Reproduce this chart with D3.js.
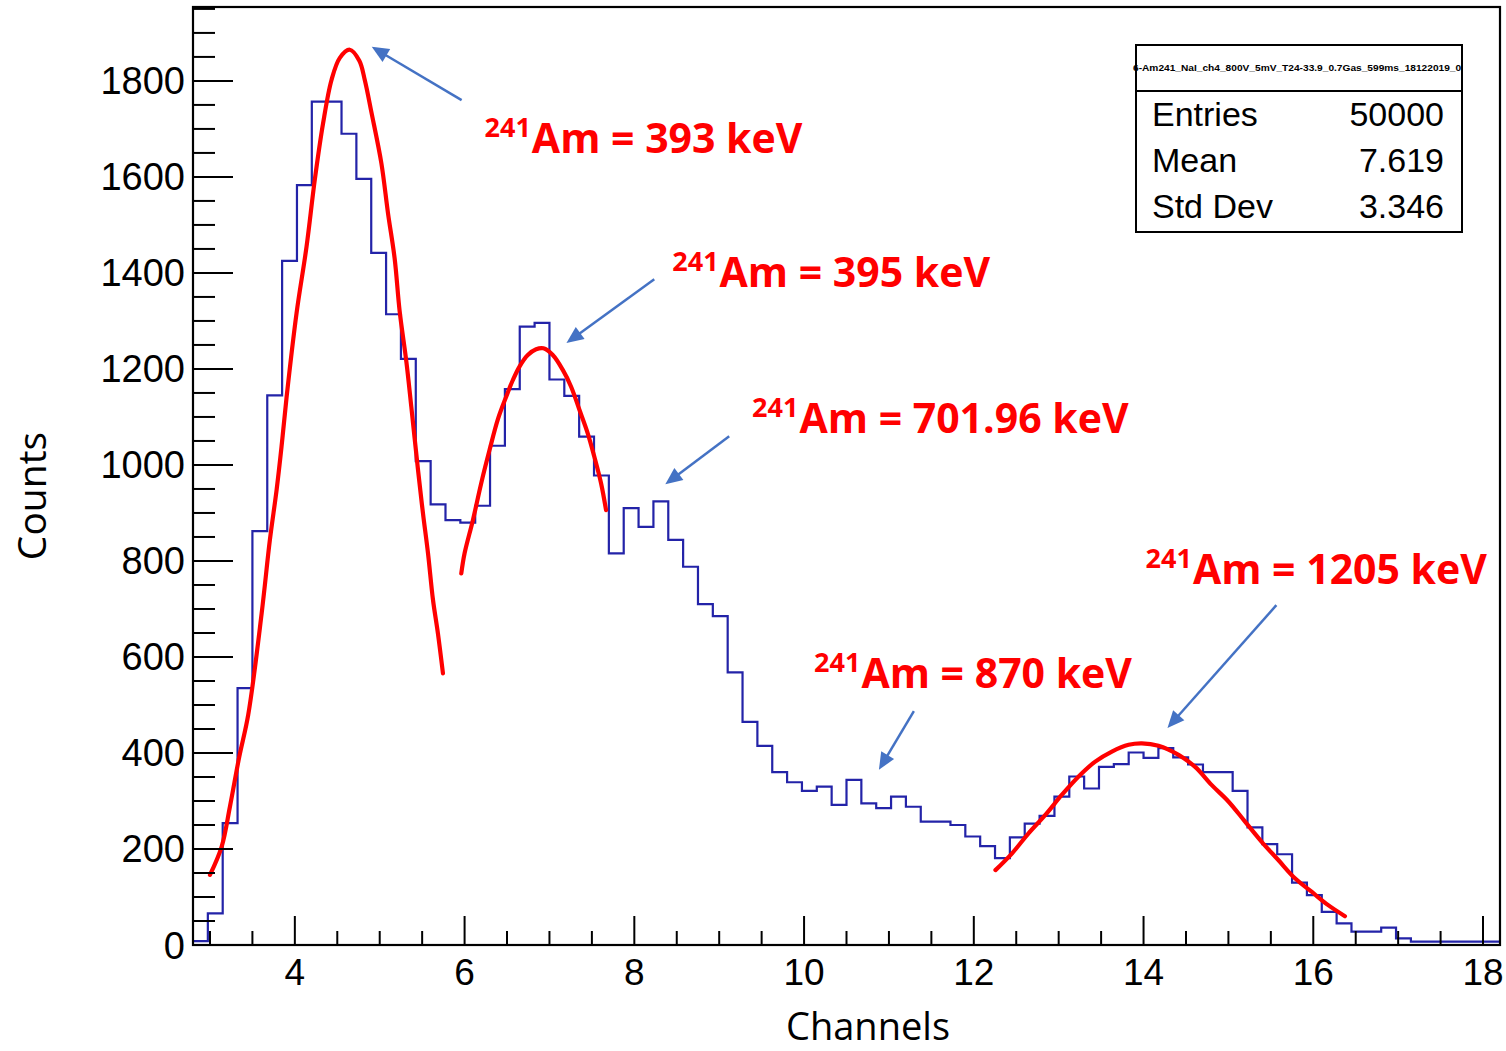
<!DOCTYPE html>
<html>
<head>
<meta charset="utf-8">
<script src="https://cdn.jsdelivr.net/npm/d3@7"></script>
<style>
  html, body { margin: 0; padding: 0; background: #fff; }
  svg { display: block; }
</style>
</head>
<body>
<svg id="chart" width="1506" height="1051"></svg>
<script>
// ---------------- DATA ----------------
const binLow = 2.8;
const binWidth = 0.175;
const counts = [
  8, 66, 254, 535, 862, 1145, 1425, 1583, 1757, 1757,
  1690, 1596, 1442, 1314, 1221, 1008, 918, 885, 880, 915,
  1040, 1158, 1288, 1296, 1178, 1144, 1059, 978, 816, 910,
  871, 924, 844, 788, 710, 685, 568, 465, 415, 360,
  339, 321, 330, 292, 344, 295, 285, 309, 288, 257,
  257, 250, 226, 206, 181, 224, 253, 269, 309, 351,
  326, 371, 377, 401, 390, 410, 391, 376, 360, 360,
  321, 245, 210, 189, 130, 104, 69, 45, 28, 28,
  36, 14, 7, 7, 7, 7, 7, 7
];

const fit1 = [
  [3.0,146],[3.138,205],[3.235,288],[3.345,392],[3.451,480],[3.609,691],[3.706,844],
  [3.785,948],[3.843,1038],[3.902,1140],[4.02,1316],[4.138,1455],[4.235,1594],[4.333,1712],
  [4.432,1802],[4.53,1848],[4.647,1865],[4.76,1842],[4.824,1802],[4.902,1735],[5.02,1628],
  [5.098,1524],[5.176,1430],[5.235,1320],[5.314,1215],[5.373,1120],[5.451,990],[5.51,899],
  [5.569,816],[5.627,720],[5.686,649],[5.745,566]
];
const fit2 = [
  [5.961,774],[6.0,816],[6.098,885],[6.196,962],[6.294,1031],[6.392,1095],[6.49,1142],
  [6.569,1177],[6.647,1205],[6.745,1229],[6.843,1241],[6.929,1243],[7.039,1229],[7.157,1198],
  [7.255,1163],[7.353,1115],[7.451,1066],[7.529,1017],[7.608,962],[7.667,906]
];
const fit3 = [
  [12.255,156],[12.451,191],[12.647,233],[12.843,271],[13.039,313],[13.235,351],[13.431,382],
  [13.627,403],[13.824,417],[13.98,420],[14.176,415],[14.412,396],[14.608,371],[14.804,333],
  [15.0,299],[15.196,257],[15.392,215],[15.588,177],[15.784,139],[15.98,111],[16.176,83],
  [16.373,60]
];

const xDomain = [2.8, 18.2];
const yDomain = [0, 1954];
const xTicks = [4, 6, 8, 10, 12, 14, 16, 18];
const yTicks = [0, 200, 400, 600, 800, 1000, 1200, 1400, 1600, 1800];

const statsTitle = "6-Am241_NaI_ch4_800V_5mV_T24-33.9_0.7Gas_599ms_18122019_0ch";
const statsNames = ["Entries", "Mean", "Std Dev"];
const statsValues = ["50000", "7.619", "3.346"];

// annotation labels: energy, label anchor (channel, counts), arrow from -> to (channel, counts)
const labelEnergies = ["393 keV", "395 keV", "701.96 keV", "870 keV", "1205 keV"];
const labelAnchors = [[6.235, 1650], [8.447, 1371], [9.388, 1067], [10.118, 535], [14.024, 752]];
const arrowFrom = [[5.965, 1760], [8.235, 1387], [9.118, 1060], [11.294, 487], [15.565, 708]];
const arrowTo   = [[4.906, 1871], [7.20, 1254], [8.365, 960], [10.882, 365], [14.282, 452]];

// ---------------- CHART ----------------
const svg = d3.select("#chart");
const L = 193, R = 1500, T = 7, B = 945;

const x = d3.scaleLinear().domain(xDomain).range([L, R]);
const y = d3.scaleLinear().domain(yDomain).range([B, T]);

// histogram step line
const histPts = counts.map((c, i) => [binLow + i * binWidth, c]);
histPts.push([binLow + counts.length * binWidth, counts[counts.length - 1]]);
svg.append("path")
  .datum(histPts)
  .attr("fill", "none")
  .attr("stroke", "#2323a8")
  .attr("stroke-width", 2.2)
  .attr("d", d3.line().x(d => x(d[0])).y(d => y(d[1])).curve(d3.curveStepAfter));

// fits
const fitLine = d3.line().x(d => x(d[0])).y(d => y(d[1])).curve(d3.curveCatmullRom.alpha(0.5));
[fit1, fit2, fit3].forEach(f => {
  svg.append("path")
    .datum(f)
    .attr("fill", "none")
    .attr("stroke", "#ff0000")
    .attr("stroke-width", 4.2)
    .attr("stroke-linecap", "round")
    .attr("d", fitLine);
});

// frame
svg.append("rect")
  .attr("x", L).attr("y", T).attr("width", R - L).attr("height", B - T)
  .attr("fill", "none").attr("stroke", "#000").attr("stroke-width", 2.2);

// x axis ticks (inside, pointing up)
const xMinor = d3.range(3.0, 18.01, 0.5).filter(v => !xTicks.some(t => Math.abs(t - v) < 1e-6));
const gx = svg.append("g");
gx.selectAll("line.maj").data(xTicks).join("line")
  .attr("x1", d => x(d)).attr("x2", d => x(d)).attr("y1", B).attr("y2", B - 29)
  .attr("stroke", "#000").attr("stroke-width", 2);
gx.selectAll("line.min").data(xMinor).join("line")
  .attr("x1", d => x(d)).attr("x2", d => x(d)).attr("y1", B).attr("y2", B - 14)
  .attr("stroke", "#000").attr("stroke-width", 2);
gx.selectAll("text").data(xTicks).join("text")
  .attr("x", d => x(d)).attr("y", 985)
  .attr("text-anchor", "middle")
  .attr("font-family", "'Liberation Sans', Arial, sans-serif")
  .attr("font-size", 37)
  .attr("fill", "#000")
  .text(d => d);

// y axis ticks (inside, pointing right)
const yMinor = d3.range(50, 1951, 50).filter(v => v % 200 !== 0);
const gy = svg.append("g");
gy.selectAll("line.maj").data(yTicks).join("line")
  .attr("x1", L).attr("x2", L + 40).attr("y1", d => y(d)).attr("y2", d => y(d))
  .attr("stroke", "#000").attr("stroke-width", 2);
gy.selectAll("line.min").data(yMinor).join("line")
  .attr("x1", L).attr("x2", L + 22).attr("y1", d => y(d)).attr("y2", d => y(d))
  .attr("stroke", "#000").attr("stroke-width", 2);
gy.selectAll("text").data(yTicks).join("text")
  .attr("x", 185).attr("y", d => y(d) + 13.5)
  .attr("text-anchor", "end")
  .attr("font-family", "'Liberation Sans', Arial, sans-serif")
  .attr("font-size", 38)
  .attr("fill", "#000")
  .text(d => d);

// axis titles
svg.append("text")
  .attr("x", 868).attr("y", 1040)
  .attr("text-anchor", "middle")
  .attr("font-family", "'Open Sans', sans-serif")
  .attr("font-size", 38)
  .attr("fill", "#000")
  .text("Channels");
svg.append("text")
  .attr("transform", "translate(46,496) rotate(-90)")
  .attr("text-anchor", "middle")
  .attr("font-family", "'Open Sans', sans-serif")
  .attr("font-size", 39)
  .attr("fill", "#000")
  .text("Counts");

// stats box
const sb = { x: 1136, y: 45, w: 326, h: 187, sep: 91 };
const defs = svg.append("defs");
defs.append("clipPath").attr("id", "titleClip")
  .append("rect").attr("x", sb.x - 4).attr("y", sb.y).attr("width", sb.w + 4).attr("height", sb.sep - sb.y);
svg.append("rect")
  .attr("x", sb.x).attr("y", sb.y).attr("width", sb.w).attr("height", sb.h)
  .attr("fill", "#fff").attr("stroke", "#000").attr("stroke-width", 2);
svg.append("line")
  .attr("x1", sb.x).attr("x2", sb.x + sb.w).attr("y1", sb.sep).attr("y2", sb.sep)
  .attr("stroke", "#000").attr("stroke-width", 2);
svg.append("text")
  .attr("clip-path", "url(#titleClip)")
  .attr("x", sb.x - 3).attr("y", 71)
  .attr("font-family", "'Liberation Sans', Arial, sans-serif")
  .attr("font-size", 9.5)
  .attr("font-weight", "bold")
  .attr("textLength", 340)
  .attr("lengthAdjust", "spacingAndGlyphs")
  .attr("fill", "#000")
  .text(statsTitle);
const rowY = [126, 172, 218];
svg.selectAll("text.sname").data(statsNames).join("text")
  .attr("class", "sname")
  .attr("x", 1152).attr("y", (d, i) => rowY[i])
  .attr("font-family", "'Liberation Sans', Arial, sans-serif")
  .attr("font-size", 34).attr("fill", "#000")
  .text(d => d);
svg.selectAll("text.sval").data(statsValues).join("text")
  .attr("class", "sval")
  .attr("x", 1444).attr("y", (d, i) => rowY[i])
  .attr("text-anchor", "end")
  .attr("font-family", "'Liberation Sans', Arial, sans-serif")
  .attr("font-size", 34).attr("fill", "#000")
  .text(d => d);

// arrows
const arrowColor = "#4472c4";
arrowFrom.forEach((f, i) => {
  const t = arrowTo[i];
  const x1 = x(f[0]), y1 = y(f[1]), x2 = x(t[0]), y2 = y(t[1]);
  const ang = Math.atan2(y2 - y1, x2 - x1);
  const hl = 17, hw = 7.5;
  const bx = x2 - hl * Math.cos(ang), by = y2 - hl * Math.sin(ang);
  svg.append("line")
    .attr("x1", x1).attr("y1", y1).attr("x2", bx + 2 * Math.cos(ang)).attr("y2", by + 2 * Math.sin(ang))
    .attr("stroke", arrowColor).attr("stroke-width", 2.5);
  const p1 = [bx + hw * Math.sin(ang), by - hw * Math.cos(ang)];
  const p2 = [bx - hw * Math.sin(ang), by + hw * Math.cos(ang)];
  svg.append("path")
    .attr("d", `M${x2},${y2}L${p1[0]},${p1[1]}L${p2[0]},${p2[1]}Z`)
    .attr("fill", arrowColor);
});

// labels
labelEnergies.forEach((e, i) => {
  const a = labelAnchors[i];
  const t = svg.append("text")
    .attr("x", x(a[0])).attr("y", y(a[1]))
    .attr("font-family", "'Open Sans', sans-serif")
    .attr("font-weight", "bold")
    .attr("fill", "#ff0000");
  t.append("tspan").attr("font-size", 27).attr("dy", -16).text("241");
  t.append("tspan").attr("font-size", 41).attr("dy", 16).attr("dx", 1).text("Am = " + e);
});
</script>
</body>
</html>
